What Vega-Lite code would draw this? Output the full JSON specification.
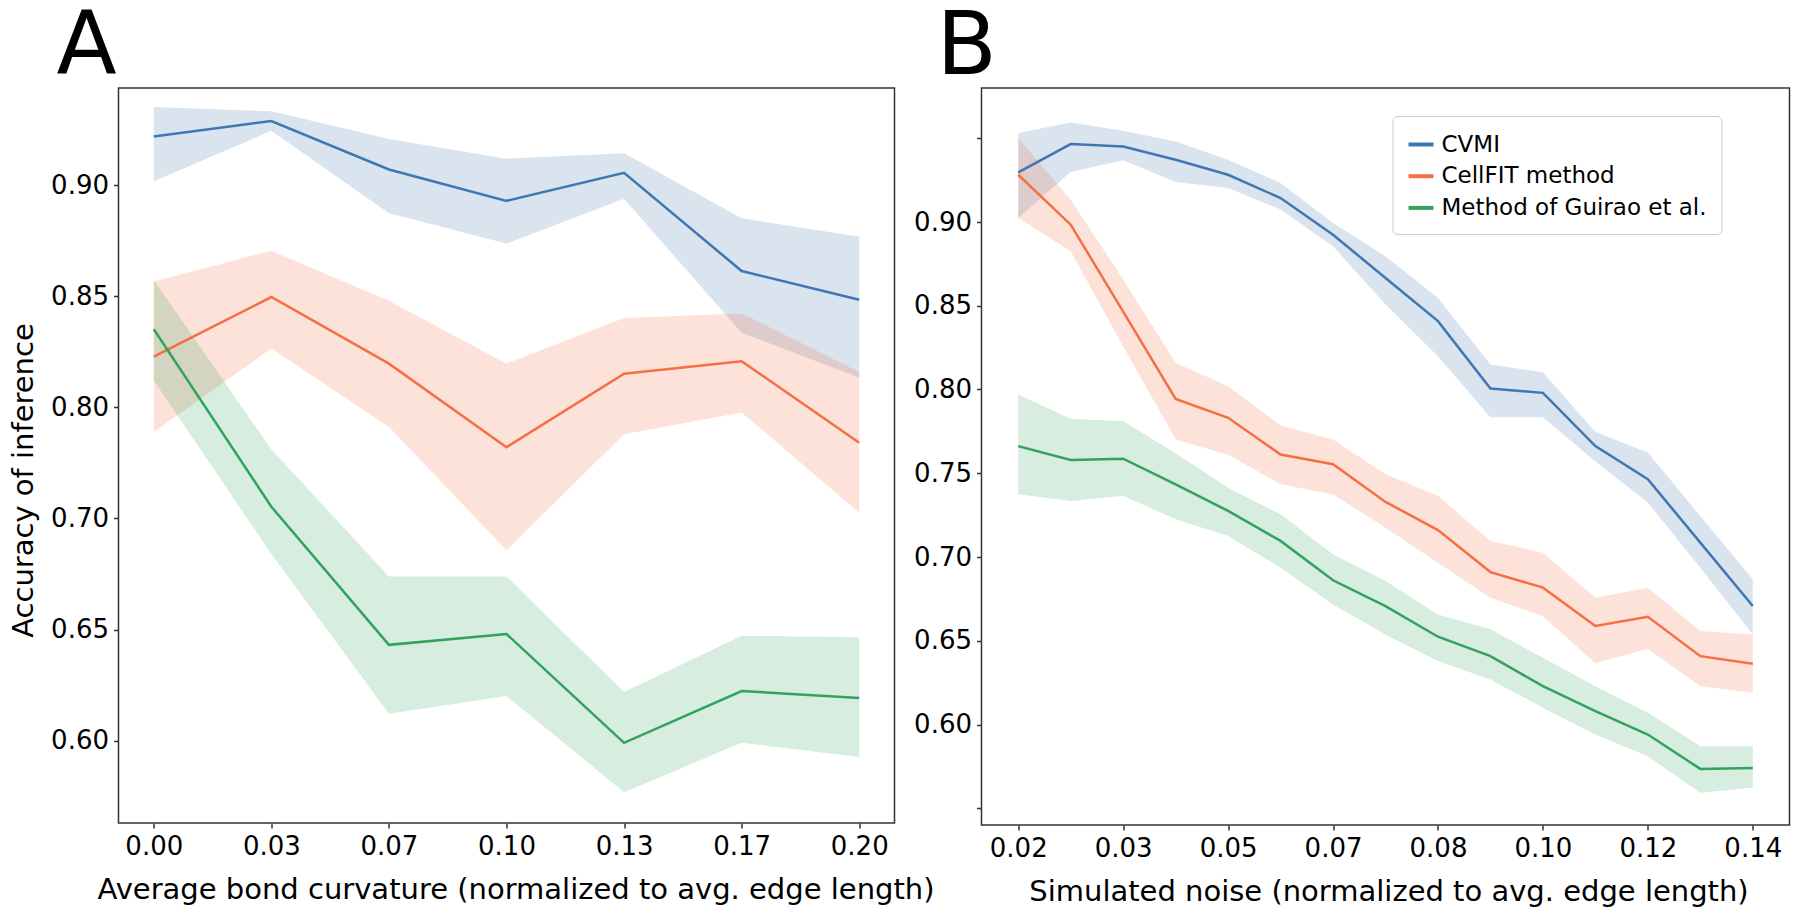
{
  "$schema": "https://vega.github.io/schema/vega-lite/v6.json",
  "background": "white",
  "padding": {"left": 8.5, "top": 2, "right": 5, "bottom": 5},
  "bounds": "flush",
  "spacing": 87,
  "config": {
    "font": "DejaVu Sans",
    "view": {"stroke": "#333333", "strokeWidth": 1.5},
    "axis": {
      "grid": false, "domain": false,
      "tickColor": "#333333", "tickSize": 5, "tickWidth": 1.5,
      "labelFontSize": 26, "labelColor": "black", "labelFont": "DejaVu Sans", "labelPadding": 5,
      "titleFontSize": 29, "titleFontWeight": "normal", "titleColor": "black", "titleFont": "DejaVu Sans", "titlePadding": 16
    }
  },
  "datasets": {
    "curv": [
      {"method": "CVMI", "x": 0, "y": 0.9220, "lo": 0.9018, "hi": 0.9353},
      {"method": "CVMI", "x": 0.03333, "y": 0.9289, "lo": 0.9245, "hi": 0.9333},
      {"method": "CVMI", "x": 0.06667, "y": 0.9071, "lo": 0.8874, "hi": 0.9208},
      {"method": "CVMI", "x": 0.1, "y": 0.8930, "lo": 0.8738, "hi": 0.9120},
      {"method": "CVMI", "x": 0.13333, "y": 0.9056, "lo": 0.8939, "hi": 0.9144},
      {"method": "CVMI", "x": 0.16667, "y": 0.8614, "lo": 0.8336, "hi": 0.8852},
      {"method": "CVMI", "x": 0.2, "y": 0.8485, "lo": 0.8135, "hi": 0.8768},
      {"method": "CellFIT method", "x": 0, "y": 0.8229, "lo": 0.7889, "hi": 0.8567},
      {"method": "CellFIT method", "x": 0.03333, "y": 0.8497, "lo": 0.8265, "hi": 0.8705},
      {"method": "CellFIT method", "x": 0.06667, "y": 0.8197, "lo": 0.7912, "hi": 0.8480},
      {"method": "CellFIT method", "x": 0.1, "y": 0.7821, "lo": 0.7357, "hi": 0.8197},
      {"method": "CellFIT method", "x": 0.13333, "y": 0.8152, "lo": 0.7879, "hi": 0.8402},
      {"method": "CellFIT method", "x": 0.16667, "y": 0.8208, "lo": 0.7977, "hi": 0.8423},
      {"method": "CellFIT method", "x": 0.2, "y": 0.7841, "lo": 0.7526, "hi": 0.8159},
      {"method": "Method of Guirao et al.", "x": 0, "y": 0.8352, "lo": 0.8121, "hi": 0.8574},
      {"method": "Method of Guirao et al.", "x": 0.03333, "y": 0.7553, "lo": 0.7340, "hi": 0.7810},
      {"method": "Method of Guirao et al.", "x": 0.06667, "y": 0.6931, "lo": 0.6621, "hi": 0.7239},
      {"method": "Method of Guirao et al.", "x": 0.1, "y": 0.6980, "lo": 0.6701, "hi": 0.7239},
      {"method": "Method of Guirao et al.", "x": 0.13333, "y": 0.6490, "lo": 0.6268, "hi": 0.6719},
      {"method": "Method of Guirao et al.", "x": 0.16667, "y": 0.6723, "lo": 0.6490, "hi": 0.6972},
      {"method": "Method of Guirao et al.", "x": 0.2, "y": 0.6692, "lo": 0.6426, "hi": 0.6965}
    ],
    "noise": [
      {"method": "CVMI", "x": 0.0175, "y": 0.9296, "lo": 0.9024, "hi": 0.9531},
      {"method": "CVMI", "x": 0.02625, "y": 0.9465, "lo": 0.9298, "hi": 0.9594},
      {"method": "CVMI", "x": 0.035, "y": 0.9451, "lo": 0.9368, "hi": 0.9545},
      {"method": "CVMI", "x": 0.04375, "y": 0.9372, "lo": 0.9239, "hi": 0.9481},
      {"method": "CVMI", "x": 0.0525, "y": 0.9282, "lo": 0.9203, "hi": 0.9372},
      {"method": "CVMI", "x": 0.06125, "y": 0.9143, "lo": 0.9074, "hi": 0.9233},
      {"method": "CVMI", "x": 0.07, "y": 0.8924, "lo": 0.8855, "hi": 0.8994},
      {"method": "CVMI", "x": 0.07875, "y": 0.8666, "lo": 0.8507, "hi": 0.8795},
      {"method": "CVMI", "x": 0.0875, "y": 0.8408, "lo": 0.8199, "hi": 0.8547},
      {"method": "CVMI", "x": 0.09625, "y": 0.8006, "lo": 0.7835, "hi": 0.8149},
      {"method": "CVMI", "x": 0.105, "y": 0.7980, "lo": 0.7835, "hi": 0.8103},
      {"method": "CVMI", "x": 0.11375, "y": 0.7662, "lo": 0.7570, "hi": 0.7746},
      {"method": "CVMI", "x": 0.1225, "y": 0.7464, "lo": 0.7325, "hi": 0.7624},
      {"method": "CVMI", "x": 0.13125, "y": 0.7086, "lo": 0.6936, "hi": 0.7245},
      {"method": "CVMI", "x": 0.14, "y": 0.6707, "lo": 0.6538, "hi": 0.6867},
      {"method": "CellFIT method", "x": 0.0175, "y": 0.9282, "lo": 0.9024, "hi": 0.9501},
      {"method": "CellFIT method", "x": 0.02625, "y": 0.8984, "lo": 0.8825, "hi": 0.9133},
      {"method": "CellFIT method", "x": 0.035, "y": 0.8465, "lo": 0.8258, "hi": 0.8656},
      {"method": "CellFIT method", "x": 0.04375, "y": 0.7944, "lo": 0.7702, "hi": 0.8159},
      {"method": "CellFIT method", "x": 0.0525, "y": 0.7831, "lo": 0.7610, "hi": 0.8020},
      {"method": "CellFIT method", "x": 0.06125, "y": 0.7612, "lo": 0.7434, "hi": 0.7785},
      {"method": "CellFIT method", "x": 0.07, "y": 0.7554, "lo": 0.7375, "hi": 0.7702},
      {"method": "CellFIT method", "x": 0.07875, "y": 0.7329, "lo": 0.7175, "hi": 0.7494},
      {"method": "CellFIT method", "x": 0.0875, "y": 0.7161, "lo": 0.6966, "hi": 0.7365},
      {"method": "CellFIT method", "x": 0.09625, "y": 0.6910, "lo": 0.6757, "hi": 0.7096},
      {"method": "CellFIT method", "x": 0.105, "y": 0.6817, "lo": 0.6647, "hi": 0.7026},
      {"method": "CellFIT method", "x": 0.11375, "y": 0.6588, "lo": 0.6365, "hi": 0.6757},
      {"method": "CellFIT method", "x": 0.1225, "y": 0.6643, "lo": 0.6452, "hi": 0.6817},
      {"method": "CellFIT method", "x": 0.13125, "y": 0.6408, "lo": 0.6229, "hi": 0.6558},
      {"method": "CellFIT method", "x": 0.14, "y": 0.6363, "lo": 0.6189, "hi": 0.6538},
      {"method": "Method of Guirao et al.", "x": 0.0175, "y": 0.7662, "lo": 0.7375, "hi": 0.7970},
      {"method": "Method of Guirao et al.", "x": 0.02625, "y": 0.7579, "lo": 0.7335, "hi": 0.7825},
      {"method": "Method of Guirao et al.", "x": 0.035, "y": 0.7587, "lo": 0.7365, "hi": 0.7811},
      {"method": "Method of Guirao et al.", "x": 0.04375, "y": 0.7434, "lo": 0.7225, "hi": 0.7620},
      {"method": "Method of Guirao et al.", "x": 0.0525, "y": 0.7275, "lo": 0.7125, "hi": 0.7414},
      {"method": "Method of Guirao et al.", "x": 0.06125, "y": 0.7096, "lo": 0.6936, "hi": 0.7255},
      {"method": "Method of Guirao et al.", "x": 0.07, "y": 0.6861, "lo": 0.6717, "hi": 0.7016},
      {"method": "Method of Guirao et al.", "x": 0.07875, "y": 0.6707, "lo": 0.6538, "hi": 0.6857},
      {"method": "Method of Guirao et al.", "x": 0.0875, "y": 0.6524, "lo": 0.6379, "hi": 0.6657},
      {"method": "Method of Guirao et al.", "x": 0.09625, "y": 0.6408, "lo": 0.6269, "hi": 0.6568},
      {"method": "Method of Guirao et al.", "x": 0.105, "y": 0.6229, "lo": 0.6100, "hi": 0.6398},
      {"method": "Method of Guirao et al.", "x": 0.11375, "y": 0.6080, "lo": 0.5940, "hi": 0.6229},
      {"method": "Method of Guirao et al.", "x": 0.1225, "y": 0.5940, "lo": 0.5811, "hi": 0.6070},
      {"method": "Method of Guirao et al.", "x": 0.13125, "y": 0.5735, "lo": 0.5592, "hi": 0.5870},
      {"method": "Method of Guirao et al.", "x": 0.14, "y": 0.5741, "lo": 0.5622, "hi": 0.5870}
    ]
  },
  "resolve": {"scale": {"x": "independent", "y": "independent"}},
  "hconcat": [
    {
      "width": 776,
      "height": 735,
      "title": {"text": "A", "anchor": "start", "frame": "group", "fontSize": 88, "fontWeight": "normal", "font": "DejaVu Sans", "dx": -62, "offset": -73, "baseline": "alphabetic", "color": "black"},
      "data": {"name": "curv"},
      "encoding": {
        "x": {
          "field": "x", "type": "quantitative",
          "scale": {"domain": [-0.01, 0.21], "nice": false, "zero": false},
          "axis": {"values": [0, 0.03333, 0.06667, 0.1, 0.13333, 0.16667, 0.2], "format": ".2f", "title": "Average bond curvature (normalized to avg. edge length)", "titleX": 397}
        },
        "color": {
          "field": "method", "type": "nominal",
          "scale": {"domain": ["CVMI", "CellFIT method", "Method of Guirao et al."], "range": ["#3f78b1", "#f46f44", "#31a35f"]},
          "legend": {
            "orient": "none", "legendX": 1274, "legendY": 28, "title": null,
            "symbolType": "stroke", "symbolStrokeWidth": 4, "symbolSize": 625,
            "labelFontSize": 23, "labelFont": "DejaVu Sans", "labelColor": "black", "labelLimit": 400, "labelOffset": 6,
            "padding": 14, "rowPadding": 4.7,
            "strokeColor": "#cccccc", "fillColor": "white", "cornerRadius": 5
          }
        }
      },
      "layer": [
        {
          "mark": {"type": "area", "fillOpacity": 0.2},
          "encoding": {
            "y": {
              "field": "lo", "type": "quantitative",
              "scale": {"domain": [0.6129, 0.9438], "nice": false, "zero": false},
              "axis": {
                "values": [0.65, 0.7, 0.75, 0.8, 0.85, 0.9],
                "labelExpr": "datum.value > 0.77 ? format(datum.value, '.2f') : format(datum.value - 0.05, '.2f')",
                "title": "Accuracy of inference", "titleFontSize": 29, "titleX": -86, "titleY": 392, "titleAlign": "center", "titleBaseline": "alphabetic"
              }
            },
            "y2": {"field": "hi"}
          }
        },
        {
          "mark": {"type": "line", "strokeWidth": 2.5},
          "encoding": {
            "y": {"field": "y", "type": "quantitative"}
          }
        }
      ]
    },
    {
      "width": 808,
      "height": 737,
      "title": {"text": "B", "anchor": "start", "frame": "group", "fontSize": 88, "fontWeight": "normal", "font": "DejaVu Sans", "dx": -45, "offset": -74, "baseline": "alphabetic", "color": "black"},
      "data": {"name": "noise"},
      "encoding": {
        "x": {
          "field": "x", "type": "quantitative",
          "scale": {"domain": [0.011375, 0.146125], "nice": false, "zero": false},
          "axis": {
            "values": [0.0175, 0.035, 0.0525, 0.07, 0.0875, 0.105, 0.1225, 0.14],
            "labelExpr": "['0.02','0.03','0.05','0.07','0.08','0.10','0.12','0.14'][round(datum.value / 0.0175) - 1]",
            "title": "Simulated noise (normalized to avg. edge length)", "titleX": 407
          }
        },
        "color": {
          "field": "method", "type": "nominal",
          "scale": {"domain": ["CVMI", "CellFIT method", "Method of Guirao et al."], "range": ["#3f78b1", "#f46f44", "#31a35f"]},
          "legend": {
            "orient": "none", "legendX": 1274, "legendY": 28, "title": null,
            "symbolType": "stroke", "symbolStrokeWidth": 4, "symbolSize": 625,
            "labelFontSize": 23, "labelFont": "DejaVu Sans", "labelColor": "black", "labelLimit": 400, "labelOffset": 6,
            "padding": 14, "rowPadding": 4.7,
            "strokeColor": "#cccccc", "fillColor": "white", "cornerRadius": 5
          }
        }
      },
      "layer": [
        {
          "mark": {"type": "area", "fillOpacity": 0.2},
          "encoding": {
            "y": {
              "field": "lo", "type": "quantitative",
              "scale": {"domain": [0.54, 0.98], "nice": false, "zero": false},
              "axis": {
                "values": [0.55, 0.6, 0.65, 0.7, 0.75, 0.8, 0.85, 0.9, 0.95],
                "labelExpr": "(datum.value < 0.56 || datum.value > 0.94) ? '' : format(datum.value, '.2f')",
                "title": null
              }
            },
            "y2": {"field": "hi"}
          }
        },
        {
          "mark": {"type": "line", "strokeWidth": 2.5},
          "encoding": {
            "y": {"field": "y", "type": "quantitative"}
          }
        }
      ]
    }
  ]
}
